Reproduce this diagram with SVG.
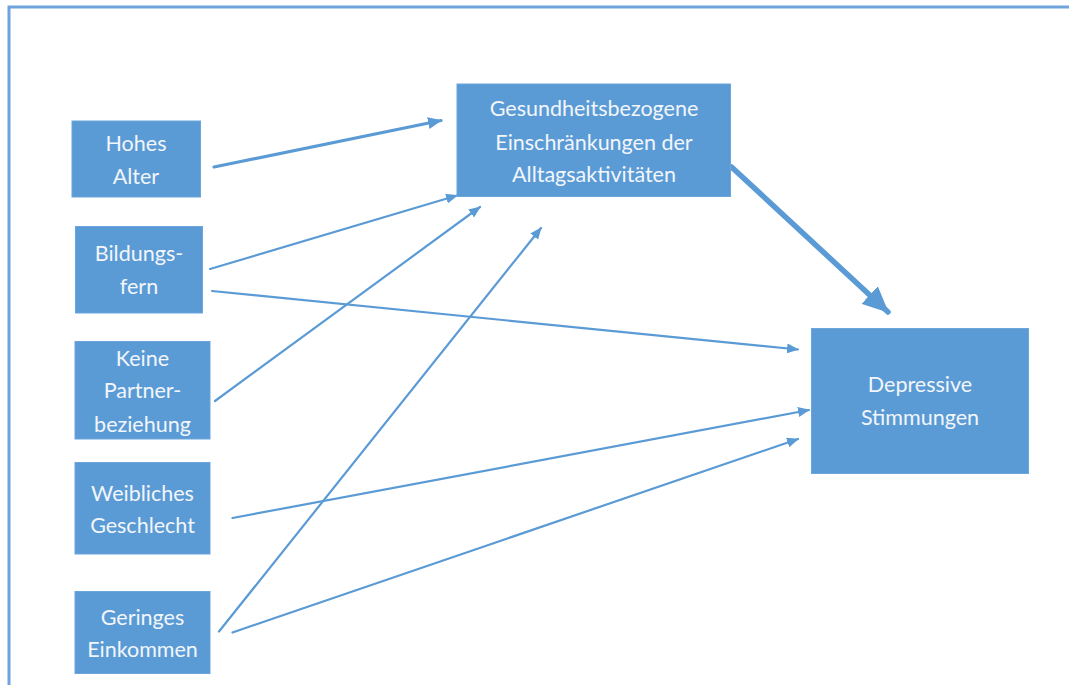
<svg xmlns="http://www.w3.org/2000/svg" width="1069" height="685" viewBox="0 0 1069 685">
<style>
.box{fill:#5b9bd5;stroke:#6aa5dc;stroke-width:1}
.t{font-family:Lato,"Open Sans","Liberation Sans",sans-serif;font-size:21.5px;fill:#f2f6fb;text-anchor:middle}
.c{stroke:#5b9bd5;fill:none;stroke-linecap:round}
.thin{stroke-width:2.2}
</style>
<defs>
<marker id="ah" markerUnits="userSpaceOnUse" markerWidth="12" markerHeight="10" refX="11" refY="5" orient="auto"><path d="M0,0 L12,5 L0,10 Z" fill="#5b9bd5"/></marker>
<marker id="ahm" markerUnits="userSpaceOnUse" markerWidth="14" markerHeight="12" refX="13" refY="6" orient="auto"><path d="M0,0 L14,6 L0,12 Z" fill="#5b9bd5"/></marker>
<marker id="ahb" markerUnits="userSpaceOnUse" markerWidth="26" markerHeight="24" refX="25" refY="12" orient="auto"><path d="M0,0 L26,12 L0,24 Z" fill="#5b9bd5"/></marker>
</defs>
<rect width="1069" height="685" fill="#ffffff"/>
<path d="M9,685 L9,7 L1069,7" fill="none" stroke="#6fa3dd" stroke-width="3"/>
<g id="connectors">
<line class="c" x1="214" y1="167" x2="441" y2="120.5" stroke-width="3.2" marker-end="url(#ahm)"/>
<line class="c thin" x1="210" y1="269" x2="457" y2="195.5" marker-end="url(#ah)"/>
<line class="c thin" x1="212" y1="291" x2="798" y2="349.5" marker-end="url(#ah)"/>
<line class="c thin" x1="215" y1="401" x2="480" y2="207" marker-end="url(#ah)"/>
<line class="c thin" x1="219" y1="631.5" x2="541" y2="228" marker-end="url(#ah)"/>
<line class="c thin" x1="232.5" y1="518" x2="809" y2="410" marker-end="url(#ah)"/>
<line class="c thin" x1="232.5" y1="632.5" x2="798" y2="439" marker-end="url(#ah)"/>
<line class="c" x1="731.5" y1="167" x2="888" y2="312" stroke-width="5.5" marker-end="url(#ahb)"/>
</g>
<g id="n-hohes-alter"><rect class="box" x="72" y="121" width="128.5" height="76"/><text class="t" x="136" y="150.5">Hohes</text><text class="t" x="136" y="184">Alter</text></g>
<g id="n-bildungsfern"><rect class="box" x="75.5" y="226.5" width="127" height="86.5"/><text class="t" x="139" y="260.5">Bildungs-</text><text class="t" x="139" y="293.5">fern</text></g>
<g id="n-partner"><rect class="box" x="75" y="341.5" width="135" height="97.5"/><text class="t" x="142.5" y="365.5">Keine</text><text class="t" x="142.5" y="398">Partner-</text><text class="t" x="142.5" y="431.5">beziehung</text></g>
<g id="n-geschlecht"><rect class="box" x="75" y="462.5" width="135" height="91.5"/><text class="t" x="142.5" y="500.5">Weibliches</text><text class="t" x="142.5" y="533">Geschlecht</text></g>
<g id="n-einkommen"><rect class="box" x="75" y="591.5" width="135" height="82"/><text class="t" x="142.5" y="624.5">Geringes</text><text class="t" x="142.5" y="657">Einkommen</text></g>
<g id="n-gesundheit"><rect class="box" x="457" y="84" width="273.5" height="112.5"/><text class="t" x="594" y="116">Gesundheitsbezogene</text><text class="t" x="594" y="149.5">Einschränkungen der</text><text class="t" x="594" y="182">Alltagsaktivitäten</text></g>
<g id="n-depressiv"><rect class="box" x="811.5" y="328.5" width="217" height="145"/><text class="t" x="920" y="392">Depressive</text><text class="t" x="920" y="424.5">Stimmungen</text></g>
</svg>
